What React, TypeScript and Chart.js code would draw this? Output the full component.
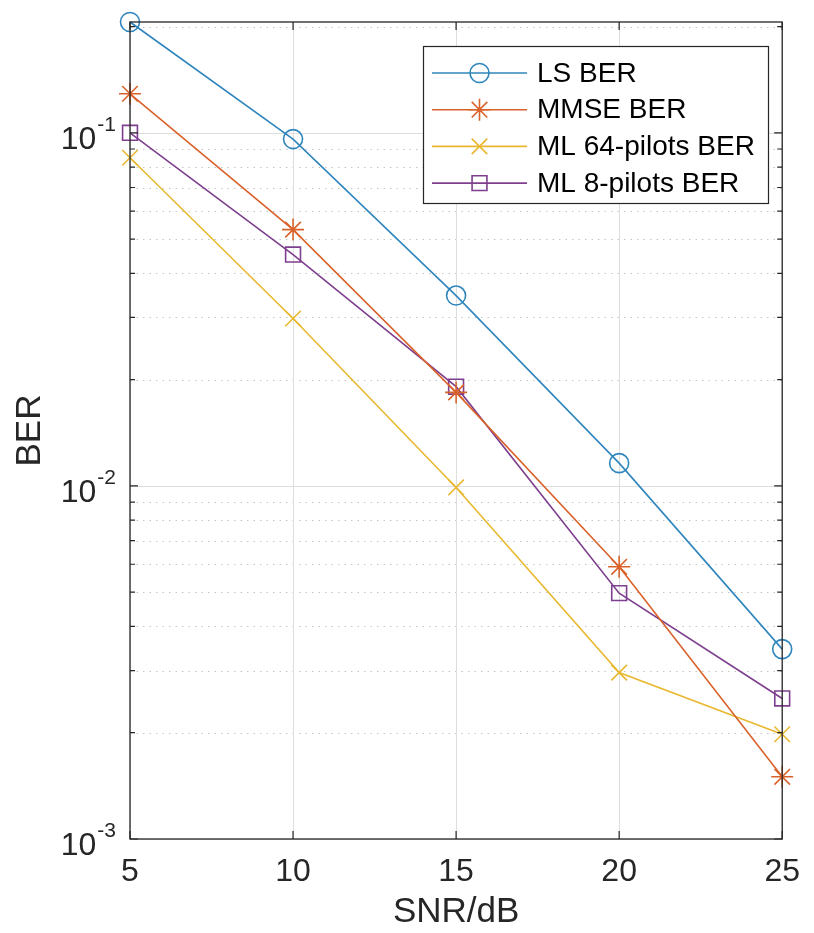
import React, { useEffect, useRef } from 'react';
import { Chart, registerables } from 'chart.js';

Chart.register(...registerables);

// ---- data ----
const snrDb = [5, 10, 15, 20, 25];
const lsBer = [0.206, 0.096, 0.0346, 0.0116, 0.00345];
const mmseBer = [0.129, 0.0532, 0.0184, 0.0059, 0.0015];
const ml64Ber = [0.085, 0.0298, 0.0099, 0.00296, 0.00198];
const ml8Ber = [0.1, 0.0452, 0.0191, 0.00497, 0.0025];
const seriesNames = ['LS BER', 'MMSE BER', 'ML 64-pilots BER', 'ML 8-pilots BER'];
const xTickValues = [5, 10, 15, 20, 25];
const yDecades = [-3, -2, -1];
const xTitle = 'SNR/dB';
const yTitle = 'BER';

const colors = ['#2f86bd', '#d9622b', '#e8b830', '#7e3f8e'];
const markers = ['circle', 'star', 'crossRot', 'rect'];
const markerRadius = [9.5, 11, 11, 10.5];

const FONT = '"Liberation Sans", Arial, Helvetica, sans-serif';
const AXIS_COLOR = '#262626';

function drawMarker(ctx: CanvasRenderingContext2D, style: string, x: number, y: number, r: number) {
  ctx.beginPath();
  if (style === 'circle') {
    ctx.arc(x, y, r, 0, Math.PI * 2);
  } else if (style === 'rect') {
    const s = r * Math.SQRT1_2;
    ctx.rect(x - s, y - s, 2 * s, 2 * s);
  } else if (style === 'crossRot' || style === 'star') {
    const o = r * Math.SQRT1_2;
    ctx.moveTo(x - o, y - o);
    ctx.lineTo(x + o, y + o);
    ctx.moveTo(x - o, y + o);
    ctx.lineTo(x + o, y - o);
    if (style === 'star') {
      ctx.moveTo(x, y - r);
      ctx.lineTo(x, y + r);
      ctx.moveTo(x - r, y);
      ctx.lineTo(x + r, y);
    }
  }
  ctx.stroke();
}

const matlabLook = {
  id: 'matlabLook',
  beforeDatasetsDraw(chart: any) {
    const { ctx, chartArea: a, scales } = chart;
    const x = scales.x;
    const y = scales.y;
    ctx.save();
    // minor grid (dotted)
    ctx.lineWidth = 1;
    ctx.strokeStyle = '#c4c4c4';
    ctx.setLineDash([1.5, 5]);
    for (const d of yDecades) {
      for (let m = 2; m <= 9; m++) {
        const v = m * Math.pow(10, d);
        if (v > y.max) continue;
        const py = Math.round(y.getPixelForValue(v)) + 0.5;
        ctx.beginPath();
        ctx.moveTo(a.left, py);
        ctx.lineTo(a.right, py);
        ctx.stroke();
      }
    }
    // major grid
    ctx.setLineDash([]);
    ctx.strokeStyle = '#dedede';
    for (const d of yDecades) {
      const py = Math.round(y.getPixelForValue(Math.pow(10, d))) + 0.5;
      ctx.beginPath();
      ctx.moveTo(a.left, py);
      ctx.lineTo(a.right, py);
      ctx.stroke();
    }
    for (const xv of xTickValues) {
      const px = Math.round(x.getPixelForValue(xv)) + 0.5;
      ctx.beginPath();
      ctx.moveTo(px, a.top);
      ctx.lineTo(px, a.bottom);
      ctx.stroke();
    }
    ctx.restore();
  },
  afterDatasetsDraw(chart: any) {
    const { ctx, chartArea: a, scales } = chart;
    const x = scales.x;
    const y = scales.y;
    ctx.save();
    ctx.strokeStyle = AXIS_COLOR;
    ctx.lineWidth = 1.3;
    ctx.setLineDash([]);
    ctx.strokeRect(a.left, a.top, a.right - a.left, a.bottom - a.top);
    // ticks
    ctx.lineWidth = 1.2;
    const major = 8;
    const minor = 5;
    ctx.beginPath();
    for (const xv of xTickValues) {
      const px = x.getPixelForValue(xv);
      ctx.moveTo(px, a.bottom);
      ctx.lineTo(px, a.bottom - major);
      ctx.moveTo(px, a.top);
      ctx.lineTo(px, a.top + major);
    }
    for (const d of yDecades) {
      for (let m = 1; m <= 9; m++) {
        const v = m * Math.pow(10, d);
        if (v > y.max) continue;
        const py = y.getPixelForValue(v);
        const len = m === 1 ? major : minor;
        ctx.moveTo(a.left, py);
        ctx.lineTo(a.left + len, py);
        ctx.moveTo(a.right, py);
        ctx.lineTo(a.right - len, py);
      }
    }
    ctx.stroke();
    // y tick labels 10^k
    ctx.fillStyle = AXIS_COLOR;
    ctx.textBaseline = 'alphabetic';
    ctx.textAlign = 'right';
    for (const d of yDecades) {
      const py = y.getPixelForValue(Math.pow(10, d));
      const sup = String(d);
      ctx.font = `21px ${FONT}`;
      const w = ctx.measureText(sup).width;
      const rightX = a.left - 14;
      ctx.fillText(sup, rightX, py - 2);
      ctx.font = `32px ${FONT}`;
      ctx.fillText('10', rightX - w - 1, py + 16);
    }
    // legend
    const lx = 423, ly = 46, lw = 345, lh = 157;
    ctx.fillStyle = '#ffffff';
    ctx.fillRect(lx, ly, lw, lh);
    ctx.strokeStyle = AXIS_COLOR;
    ctx.lineWidth = 1.2;
    ctx.strokeRect(lx + 0.5, ly + 0.5, lw, lh);
    ctx.font = `28px ${FONT}`;
    ctx.textAlign = 'left';
    ctx.textBaseline = 'middle';
    for (let i = 0; i < seriesNames.length; i++) {
      const ey = 73 + i * 36.7;
      ctx.strokeStyle = colors[i];
      ctx.lineWidth = 1.6;
      ctx.beginPath();
      ctx.moveTo(432, ey);
      ctx.lineTo(527, ey);
      ctx.stroke();
      drawMarker(ctx, markers[i], 479.5, ey, markerRadius[i]);
      ctx.fillStyle = '#000000';
      ctx.fillText(seriesNames[i], 537, ey + 1);
    }
    ctx.restore();
  },
};

const seriesValues = [lsBer, mmseBer, ml64Ber, ml8Ber];

export default function App() {
  const canvasRef = useRef<HTMLCanvasElement | null>(null);

  useEffect(() => {
    const canvas = canvasRef.current;
    if (!canvas) return;
    const chart = new Chart(canvas, {
      type: 'line',
      data: {
        datasets: seriesNames.map((name, i) => ({
          label: name,
          data: snrDb.map((s, j) => ({ x: s, y: seriesValues[i][j] })),
          borderColor: colors[i],
          backgroundColor: 'rgba(0,0,0,0)',
          borderWidth: 1.6,
          pointStyle: markers[i] as any,
          pointRadius: markerRadius[i],
          pointHoverRadius: markerRadius[i],
          pointBorderColor: colors[i],
          pointBackgroundColor: 'rgba(0,0,0,0)',
          pointBorderWidth: 1.6,
          fill: false,
          tension: 0,
          clip: false as any,
        })),
      },
      options: {
        responsive: false,
        animation: false,
        devicePixelRatio: 1,
        layout: { padding: { top: 22, right: 19, left: 0, bottom: 0 } },
        plugins: {
          legend: { display: false },
          tooltip: { enabled: false },
          title: { display: false },
        },
        scales: {
          x: {
            type: 'linear',
            min: 5,
            max: 25,
            afterBuildTicks: (scale: any) => {
              scale.ticks = xTickValues.map((v) => ({ value: v }));
            },
            afterFit: (scale: any) => {
              scale.height = 94;
            },
            grid: { display: false, drawTicks: false },
            border: { display: false },
            ticks: {
              color: AXIS_COLOR,
              font: { family: FONT, size: 32 },
              padding: 14,
              maxRotation: 0,
              autoSkip: false,
              callback: (v: any) => String(v),
            },
            title: {
              display: true,
              text: xTitle,
              color: AXIS_COLOR,
              font: { family: FONT, size: 35 },
              padding: { top: 0, bottom: 0 },
            },
          },
          y: {
            type: 'logarithmic',
            min: 0.001,
            max: 0.206,
            afterFit: (scale: any) => {
              scale.width = 130;
            },
            grid: { display: false, drawTicks: false },
            border: { display: false },
            ticks: { display: false },
            title: {
              display: true,
              text: yTitle,
              color: AXIS_COLOR,
              font: { family: FONT, size: 35 },
              padding: { top: 9, bottom: 0 },
            },
          },
        },
      },
      plugins: [matlabLook],
    });
    return () => chart.destroy();
  }, []);

  return (
    <div style={{ position: 'absolute', left: 0, top: 0, width: 814, height: 933, background: '#ffffff' }}>
      <canvas ref={canvasRef} width={814} height={933} style={{ width: 814, height: 933, display: 'block' }} />
    </div>
  );
}
